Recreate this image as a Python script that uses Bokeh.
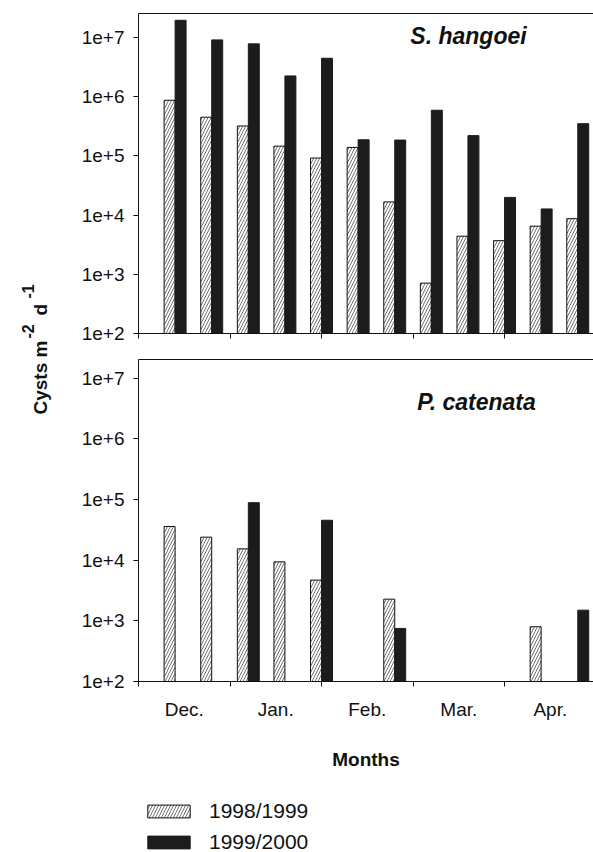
import math
import numpy as np
from bokeh.plotting import figure
from bokeh.layouts import row, column
from bokeh.models import (Range1d, FixedTicker, CustomJSTickFormatter, Label,
                          Legend, LegendItem, LinearAxis, ColumnDataSource)
from bokeh.core.properties import value
from bokeh.embed import file_html
from bokeh.resources import INLINE

nan = float("nan")

# ---------------- data ----------------
months = ["Dec.", "Jan.", "Feb.", "Mar.", "Apr."]
samples = list(range(1, 13))
series = ["1998/1999", "1999/2000"]
s_hangoei_9899 = [8.7e5, 4.5e5, 3.2e5, 1.46e5, 9.2e4, 1.39e5, 1.67e4, 7.1e2, 4.4e3, 3.7e3, 6.5e3, 8.7e3]
s_hangoei_9900 = [1.95e7, 9.1e6, 7.8e6, 2.24e6, 4.46e6, 1.87e5, 1.85e5, 5.9e5, 2.2e5, 1.99e4, 1.27e4, 3.5e5]
p_catenata_9899 = [3.6e4, 2.4e4, 1.54e4, 9.4e3, 4.7e3, nan, 2.28e3, nan, nan, nan, 8.0e2, nan]
p_catenata_9900 = [nan, nan, 8.9e4, nan, 4.56e4, nan, 7.5e2, nan, nan, nan, nan, 1.5e3]
y_ticks = [1e2, 1e3, 1e4, 1e5, 1e6, 1e7]
y_label_parts = ["Cysts m", "-2", "d", "-1"]   # base, superscript, base, superscript
x_label = "Months"

FONT = "Liberation Sans"
INK = "#111111"
BAR_BLACK = "#1c1c1c"
GROUP_W = 0.3
X_END = 12.43


def style_hatched(kw):
    kw.update(fill_color="white", line_color=INK, line_width=1,
              hatch_pattern="/", hatch_color=INK, hatch_scale=6, hatch_weight=0.6)
    return kw


def style_black(kw):
    kw.update(fill_color=BAR_BLACK, line_color=BAR_BLACK, line_width=1)
    return kw


def make_panel(vals_a, vals_b, species, y_end, height, border_top, border_bottom,
               bottom_panel, sp_x, sp_y):
    p = figure(width=533, height=height, output_backend="svg", toolbar_location=None,
               x_range=Range1d(0, X_END), y_range=Range1d(1e2, y_end), y_axis_type="log",
               min_border_left=78, min_border_right=0, min_border_top=border_top,
               min_border_bottom=border_bottom, outline_line_color=None)
    p.xgrid.grid_line_color = None
    p.ygrid.grid_line_color = None

    xs = np.array(samples, dtype=float)
    src_a = ColumnDataSource(dict(x=xs - GROUP_W / 2, top=np.array(vals_a, dtype=float)))
    src_b = ColumnDataSource(dict(x=xs + GROUP_W / 2, top=np.array(vals_b, dtype=float)))
    p.vbar(x="x", top="top", bottom=1e2, width=GROUP_W, source=src_a, **style_hatched({}))
    p.vbar(x="x", top="top", bottom=1e2, width=GROUP_W, source=src_b, **style_black({}))

    # y axis
    ya = p.yaxis[0]
    ya.ticker = FixedTicker(ticks=y_ticks, minor_ticks=[])
    ya.formatter = CustomJSTickFormatter(code="return '1e+' + Math.round(Math.log10(tick));")
    ya.major_tick_in = 0
    ya.major_tick_out = 5
    ya.minor_tick_line_color = None
    ya.major_label_standoff = 9
    ya.major_label_text_font = FONT
    ya.major_label_text_font_size = "19px"
    ya.major_label_text_color = INK
    ya.axis_line_color = INK

    # x axis: month labels centred between ticks
    xa = p.xaxis[0]
    centers = [1.25 + 2.5 * i for i in range(len(months))]
    xa.ticker = FixedTicker(ticks=centers, minor_ticks=[0, 2.5, 5, 7.5, 10])
    xa.major_tick_line_color = None
    xa.major_tick_in = 0
    xa.major_tick_out = 0
    xa.minor_tick_in = 0
    xa.minor_tick_out = 5
    xa.minor_tick_line_color = INK
    xa.axis_line_color = INK
    if bottom_panel:
        xa.formatter = CustomJSTickFormatter(args=dict(labels=months),
                                             code="return labels[Math.round((tick - 1.25) / 2.5)];")
        xa.major_label_text_font = FONT
        xa.major_label_text_font_size = "19px"
        xa.major_label_text_color = INK
        xa.major_label_standoff = 12
        xa.axis_label = x_label
        xa.axis_label_text_font = FONT
        xa.axis_label_text_font_size = "19px"
        xa.axis_label_text_font_style = "bold"
        xa.axis_label_text_color = INK
        xa.axis_label_standoff = 26
    else:
        xa.formatter = CustomJSTickFormatter(code="return '';")

    # top border line
    top_axis = LinearAxis(ticker=FixedTicker(ticks=[]), axis_line_color=INK,
                          major_tick_line_color=None, minor_tick_line_color=None)
    p.add_layout(top_axis, "above")

    # species name (screen units are relative to the plot frame)
    p.add_layout(Label(x=sp_x, y=sp_y, x_units="screen", y_units="screen",
                       text=species, text_font=FONT, text_font_size="23px",
                       text_font_style="bold italic", text_color=INK,
                       text_align="center", text_baseline="middle"))
    return p


top = make_panel(s_hangoei_9899, s_hangoei_9900, "S. hangoei", 10 ** 7.405,
                 346, 13, 13, False, 330, 298)
bot = make_panel(p_catenata_9899, p_catenata_9900, "P. catenata", 10 ** 7.31,
                 444, 13, 109, True, 338, 280)

# legend strip (proxy glyphs lie outside the visible range)
leg = figure(width=533, height=62, output_backend="svg", toolbar_location=None,
             x_range=Range1d(0, 1), y_range=Range1d(0, 1), min_border=0,
             outline_line_color=None)
leg.axis.visible = False
leg.grid.grid_line_color = None
proxy = ColumnDataSource(dict(x=[-10.0], top=[-10.0]))
la = leg.vbar(x="x", top="top", bottom=-11, width=0.1, source=proxy, **style_hatched({}))
lb = leg.vbar(x="x", top="top", bottom=-11, width=0.1, source=proxy, **style_black({}))
legend = Legend(items=[LegendItem(label=series[0], renderers=[la]),
                       LegendItem(label=series[1], renderers=[lb])],
                location=(4, -2), orientation="vertical",
                glyph_width=53, glyph_height=16, label_height=16, spacing=7,
                label_standoff=14, padding=0, margin=0,
                border_line_color=None, background_fill_alpha=0,
                label_text_font=FONT, label_text_font_size="21px", label_text_color=INK)
leg.add_layout(legend, "center")

# y-axis title spanning both panels (rotated, with superscripts)
lab = figure(width=60, height=852, output_backend="svg", toolbar_location=None,
             x_range=Range1d(0, 60), y_range=Range1d(0, 852), min_border=0,
             outline_line_color=None)
lab.axis.visible = False
lab.grid.grid_line_color = None
piece_x = [40, 27, 40, 27]
piece_y = [852 - 414, 852 - 338, 852 - 315, 852 - 298]
piece_size = ["19px", "16px", "19px", "16px"]
lab.text(x=piece_x, y=piece_y, text=y_label_parts, angle=math.pi / 2,
         text_font=value(FONT), text_font_size=piece_size, text_font_style="bold",
         text_color=INK, text_align="left", text_baseline="alphabetic")

layout = row(lab, column(top, bot, leg, spacing=0), spacing=0)

with open("out.html", "w") as f:
    f.write(file_html(layout, INLINE))
